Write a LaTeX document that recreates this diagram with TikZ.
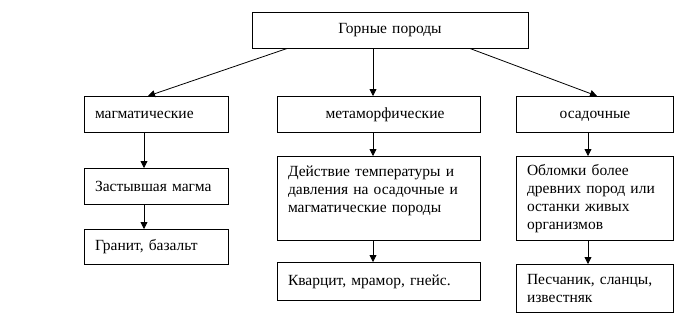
\documentclass[tikz,border=0pt]{standalone}
\usepackage{fontspec}
\setmainfont{Liberation Serif}
\usetikzlibrary{arrows.meta}
\begin{document}
\begin{tikzpicture}[x=1pt,y=-1pt,
  box/.style={draw, line width=1pt, rectangle, anchor=north west, inner xsep=10pt, inner ysep=0pt,
    align=left, font=\fontsize{15.5}{18}\selectfont},
  cbox/.style={box, align=center},
  arr/.style={-{Triangle[width=7pt,length=7pt]}, line width=0.8pt}]
\useasboundingbox (0,0) rectangle (697,325);
\fill[white] (0,0) rectangle (697,325);

\node[cbox, anchor=center, minimum width=276pt, minimum height=36pt, text width=250pt] (top) at (390,30) {Горные породы};

\node[box, minimum width=144pt, minimum height=36pt, text width=123pt] (mag1) at (84,96) {магматические\vphantom{ф}};
\node[box, minimum width=144pt, minimum height=36pt, text width=123pt] (mag2) at (84,168) {Застывшая магма};
\node[box, minimum width=144pt, minimum height=35pt, text width=123pt] (mag3) at (84,229) {Гранит, базальт};

\node[cbox, minimum width=203pt, minimum height=36pt, text width=182pt] (met1) at (277,96) {\hspace*{12pt}метаморфические};
\node[box, minimum width=203pt, minimum height=84pt, text width=182pt] (met2) at (277,156) {Действие температуры и\\давления на осадочные и\\магматические породы\\\mbox{}};
\node[box, minimum width=203pt, minimum height=38pt, text width=182pt] (met3) at (277,262) {Кварцит, мрамор, гнейс.};

\node[cbox, minimum width=157pt, minimum height=36pt, text width=136pt] (sed1) at (516,96) {осадочные\vphantom{ф}};
\node[box, minimum width=157pt, minimum height=84pt, text width=136pt] (sed2) at (516,156) {Обломки более\\древних пород или\\останки живых\\организмов};
\node[box, minimum width=157pt, minimum height=48pt, text width=136pt] (sed3) at (516,264) {Песчаник, сланцы,\\известняк};

\coordinate (xm) at (144,0);
\coordinate (xt) at (373,0);
\coordinate (xs) at (588,0);
\coordinate (xl) at (287,0);
\coordinate (xle) at (148,0);
\coordinate (xr) at (470,0);
\coordinate (xre) at (597,0);

\draw[arr] (top.south -| xt) -- (met1.north -| xt);
\draw[arr] (top.south -| xl) -- (mag1.north -| xle);
\draw[arr] (top.south -| xr) -- (sed1.north -| xre);

\draw[arr] (mag1.south -| xm) -- (mag2.north -| xm);
\draw[arr] (mag2.south -| xm) -- (mag3.north -| xm);
\draw[arr] (met1.south -| xt) -- (met2.north -| xt);
\draw[arr] (met2.south -| xt) -- (met3.north -| xt);
\draw[arr] (sed1.south -| xs) -- (sed2.north -| xs);
\draw[arr] (sed2.south -| xs) -- (sed3.north -| xs);
\end{tikzpicture}
\end{document}
